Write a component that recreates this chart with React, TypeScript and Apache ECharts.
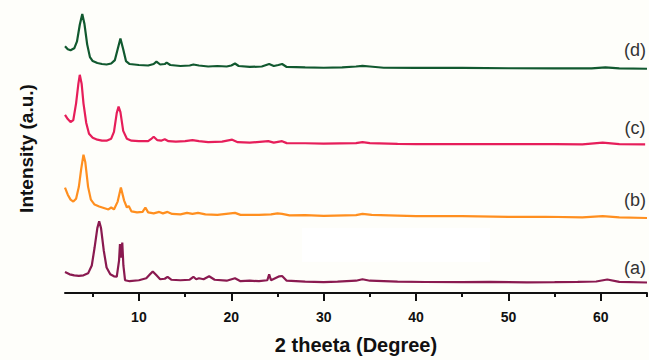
import React, { useEffect, useRef } from "react";
import * as echarts from "echarts";

// 2θ positions (degrees) and intensities (a.u., already offset per trace)
const aX = [2.0, 2.5, 3.0, 3.5, 4.0, 4.5, 4.9, 5.2, 5.5, 5.7, 5.9, 6.2, 6.5, 6.9, 7.3, 7.6, 7.85, 7.95, 8.05, 8.2, 8.32, 8.5, 9.0, 10.0, 10.8, 11.2, 11.5, 11.9, 12.3, 12.8, 13.1, 13.5, 14.5, 15.5, 15.9, 16.2, 16.5, 17.0, 17.6, 18.2, 19.5, 20.4, 21.0, 22.0, 23.0, 23.9, 24.1, 24.3, 25.2, 25.5, 26.0, 28.0, 30.0, 31.5, 33.5, 34.2, 35.0, 38.0, 41.0, 45.0, 48.0, 52.0, 55.0, 57.5, 59.5, 60.7, 62.0, 65.0];
const aY = [21.3, 19, 18, 17.5, 18, 20, 28, 46, 66, 73, 66, 43, 26, 19, 17, 16.5, 33, 49.7, 36, 51.3, 28, 13, 12, 13, 15, 19, 22, 18, 14, 14.5, 16.5, 13.5, 13, 13.5, 16.5, 14, 15, 14, 17, 13.5, 12.5, 15, 12, 12.5, 12, 13, 19, 13, 17, 17.3, 12.5, 11.5, 11, 11.6, 12.5, 14, 12.5, 11.5, 11.2, 11, 11.4, 10.8, 11, 11.3, 11.7, 13.7, 11.3, 10.7];

const bX = [2.0, 2.3, 2.6, 2.9, 3.2, 3.5, 3.75, 4.0, 4.2, 4.5, 4.8, 5.2, 5.7, 6.2, 6.7, 7.0, 7.3, 7.7, 8.05, 8.4, 8.7, 8.9, 9.2, 9.8, 10.4, 10.7, 11.0, 11.6, 12.2, 12.6, 13.1, 13.6, 14.5, 15.2, 15.8, 16.4, 17.2, 18.5, 20.4, 21.0, 23.0, 24.3, 25.0, 25.5, 26.3, 28.0, 30.0, 33.5, 34.2, 35.2, 38.0, 40.0, 45.0, 50.0, 54.0, 58.0, 60.2, 62.0, 65.0];
const bY = [107.3, 100, 95, 93, 96, 108, 126, 140.7, 133, 108, 95, 90, 88, 86.5, 85, 87, 85, 93, 107.3, 94, 87, 88.5, 83, 82, 82.5, 87, 82, 81, 82.5, 81, 82.5, 80.5, 80, 81.5, 80.5, 81.5, 80, 79.5, 81.5, 79.5, 79.5, 80, 81, 80.5, 79, 79.2, 78.5, 79.2, 80.5, 79.5, 78.8, 78.2, 78.3, 77.5, 77.6, 77, 78.3, 77, 76.3];

const cX = [2.0, 2.3, 2.6, 2.9, 3.2, 3.45, 3.6, 3.8, 4.0, 4.3, 4.6, 5.0, 5.5, 6.0, 6.5, 7.0, 7.3, 7.6, 7.8, 8.0, 8.3, 8.7, 9.2, 10.0, 11.0, 11.3, 11.6, 12.0, 12.4, 12.8, 13.2, 14.0, 15.0, 15.8, 16.5, 17.5, 19.0, 20.1, 20.7, 22.0, 24.0, 24.6, 25.5, 26.0, 28.0, 30.0, 33.5, 34.2, 35.0, 38.0, 40.0, 45.0, 50.0, 55.0, 58.0, 60.2, 62.0, 64.8];
const cY = [181.3, 177, 174, 176, 193, 213, 222, 213, 193, 173, 162, 158, 156, 155, 155, 157, 164, 183, 189.7, 184, 165, 157, 155, 154.5, 154.5, 156.5, 159, 155.5, 155, 156.5, 154.5, 154, 154.5, 155.5, 154.5, 153.5, 154, 156, 153.5, 153, 154.5, 153, 154.5, 152.5, 152.4, 152, 152.5, 153.5, 152.5, 151.8, 151.5, 151.6, 151.5, 151.4, 151.2, 153, 151.5, 151.3];

const dX = [2.0, 2.3, 2.6, 3.0, 3.3, 3.6, 3.87, 4.1, 4.4, 4.7, 5.0, 5.5, 6.0, 6.5, 7.0, 7.4, 7.7, 8.0, 8.3, 8.6, 9.0, 10.0, 11.0, 11.6, 11.9, 12.3, 12.8, 13.0, 13.4, 14.5, 15.5, 15.9, 16.5, 17.5, 18.5, 19.5, 20.0, 20.4, 20.8, 22.0, 23.3, 24.1, 24.6, 25.1, 25.5, 26.0, 28.0, 30.0, 32.0, 33.5, 34.2, 35.0, 36.5, 40.0, 45.0, 50.0, 55.0, 59.0, 60.5, 62.0, 65.0];
const dY = [251, 248, 247, 249, 256, 273, 284, 274, 253, 240, 236, 234, 233, 232.5, 233.5, 237, 248, 259, 248, 236, 233, 232, 231.5, 233, 235.5, 232.5, 233, 234.5, 232, 231, 231.5, 232.5, 231.5, 230.5, 231, 230.5, 231.5, 233.5, 231, 230, 230.5, 233, 231, 232, 233, 230, 229.5, 229.2, 229.5, 230.5, 231.2, 230.5, 229.2, 229, 229, 228.7, 228.5, 228.5, 229.5, 228.5, 228.2];

const traceLabels = ["(a)", "(b)", "(c)", "(d)"];
const traceColors = ["#8a1a50", "#ff8f1f", "#e61e5a", "#11592f"];
const majorTicks = [10, 20, 30, 40, 50, 60];
const minorTicks = [5, 15, 25, 35, 45, 55, 65];
const xTitle = "2 theeta (Degree)";
const yTitle = "Intensity (a.u.)";

const zip = (xs: number[], ys: number[]) => xs.map((x, i) => [x, ys[i]]);

export default function App() {
  const ref = useRef<HTMLDivElement>(null);
  useEffect(() => {
    if (!ref.current) return;
    const chart = echarts.init(ref.current, undefined, { renderer: "svg" });
    const traces = [zip(aX, aY), zip(bX, bY), zip(cX, cY), zip(dX, dY)];
    const labelPos = [
      [635, 268],
      [635, 200],
      [635, 128],
      [635, 50],
    ];
    chart.setOption({
      animation: false,
      backgroundColor: "#fefefa",
      grid: { left: 65, right: 2, top: 8, bottom: 62 },
      xAxis: [
        {
          type: "value",
          min: 2,
          max: 65,
          name: xTitle,
          nameLocation: "middle",
          nameGap: 42,
          nameTextStyle: { fontFamily: "Arial, Liberation Sans", fontWeight: "bold", fontSize: 20, color: "#111" },
          axisLine: { show: true, onZero: false, lineStyle: { color: "#111", width: 2 } },
          axisTick: { show: true, customValues: majorTicks, length: 8, lineStyle: { color: "#111", width: 2 } },
          axisLabel: {
            customValues: majorTicks,
            margin: 17,
            fontFamily: "Arial, Liberation Sans",
            fontWeight: "bold",
            fontSize: 14,
            color: "#111",
          },
          splitLine: { show: false },
        },
        {
          type: "value",
          min: 2,
          max: 65,
          position: "bottom",
          axisLine: { show: false },
          axisTick: { show: true, customValues: minorTicks, length: 4, lineStyle: { color: "#111", width: 2 } },
          axisLabel: { show: false },
          splitLine: { show: false },
        },
      ],
      yAxis: {
        type: "value",
        min: 0,
        max: 290,
        name: yTitle,
        nameLocation: "middle",
        nameGap: 29,
        nameTextStyle: {
          fontFamily: "Arial, Liberation Sans",
          fontWeight: "bold",
          fontSize: 19,
          color: "#111",
          padding: [0, 0, 0, 4],
        },
        axisLine: { show: false },
        axisTick: { show: false },
        axisLabel: { show: false },
        splitLine: { show: false },
      },
      graphic: [
        {
          type: "rect",
          silent: true,
          z: -1,
          shape: { x: 302, y: 228, width: 188, height: 34 },
          style: { fill: "#ffffff" },
        },
        ...traceLabels.map((t, i) => ({
          type: "text",
          x: labelPos[i][0],
          y: labelPos[i][1],
          style: {
            text: t,
            fontFamily: "Arial, Liberation Sans",
            fontSize: 18,
            fill: "#333",
            textAlign: "center",
            textVerticalAlign: "middle",
          },
        })),
      ],
      series: traces.map((d, i) => ({
        type: "line",
        name: traceLabels[i],
        data: d,
        showSymbol: false,
        symbol: "none",
        lineStyle: { color: traceColors[i], width: 2.2 },
        z: 3,
      })),
    });
    return () => chart.dispose();
  }, []);
  return <div ref={ref} style={{ width: 649, height: 360, position: "absolute", left: 0, top: 0 }} />;
}
